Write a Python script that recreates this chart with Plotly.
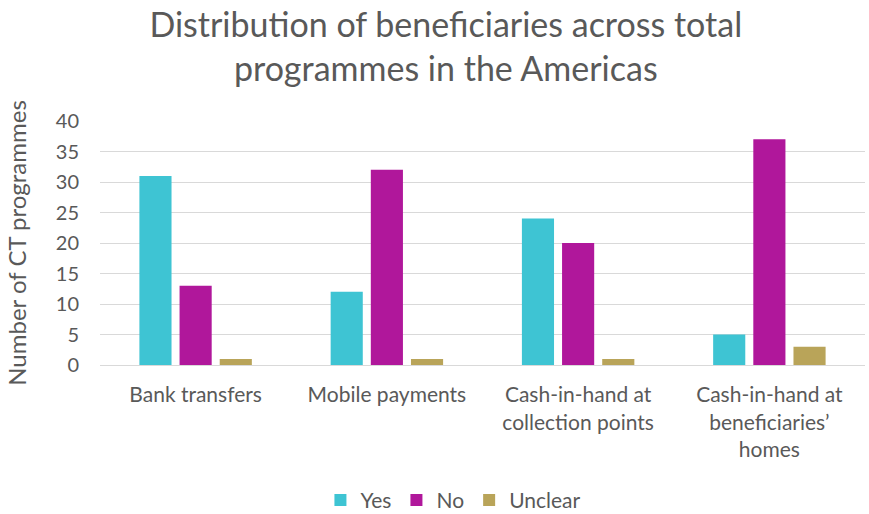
import plotly.graph_objects as go

categories = ["Bank transfers", "Mobile payments",
              "Cash-in-hand at<br>collection points",
              "Cash-in-hand at<br>beneficiaries’<br>homes"]
yes_vals = [31, 12, 24, 5]
no_vals = [13, 32, 20, 37]
unclear_vals = [1, 1, 1, 3]
y_ticks = [0, 5, 10, 15, 20, 25, 30, 35, 40]

font_family = "Lato, Open Sans, sans-serif"
text_color = "#595959"

fig = go.Figure()
for name, vals, color in [("Yes", yes_vals, "#3EC4D3"),
                          ("No", no_vals, "#B0179B"),
                          ("Unclear", unclear_vals, "#B9A459")]:
    fig.add_trace(go.Bar(name=name, x=categories, y=vals,
                         marker=dict(color=color, line=dict(width=0))))

fig.update_layout(
    width=869, height=514,
    margin=dict(l=100, r=4, t=121, b=149, autoexpand=False),
    paper_bgcolor="white", plot_bgcolor="white",
    barmode="group", bargap=0.37, bargroupgap=0.2,
    font=dict(family=font_family, color=text_color),
    title=dict(text="Distribution of beneficiaries across total<br>programmes in the Americas",
               x=0.513, xanchor="center", y=0.928, yanchor="top",
               font=dict(size=34, color=text_color, family=font_family)),
    legend=dict(orientation="h", x=0.462, xanchor="center", y=-0.555, yanchor="middle",
                font=dict(size=21, color=text_color), itemwidth=30,
                traceorder="normal"),
    showlegend=True,
)
fig.update_xaxes(showline=True, linecolor="#D9D9D9", linewidth=1, automargin=False,
                 tickfont=dict(size=21, color=text_color), ticks="",
                 ticklabelstandoff=11)
fig.update_yaxes(range=[0, 40], tickvals=y_ticks, showgrid=True, automargin=False,
                 gridcolor="#D9D9D9", gridwidth=1, zeroline=False,
                 tickfont=dict(size=20, color=text_color), ticks="",
                 ticklen=0, ticklabelstandoff=20,
                 title=dict(text="Number of CT programmes", standoff=22,
                            font=dict(size=24, color=text_color)))

fig.write_html("out.html")
